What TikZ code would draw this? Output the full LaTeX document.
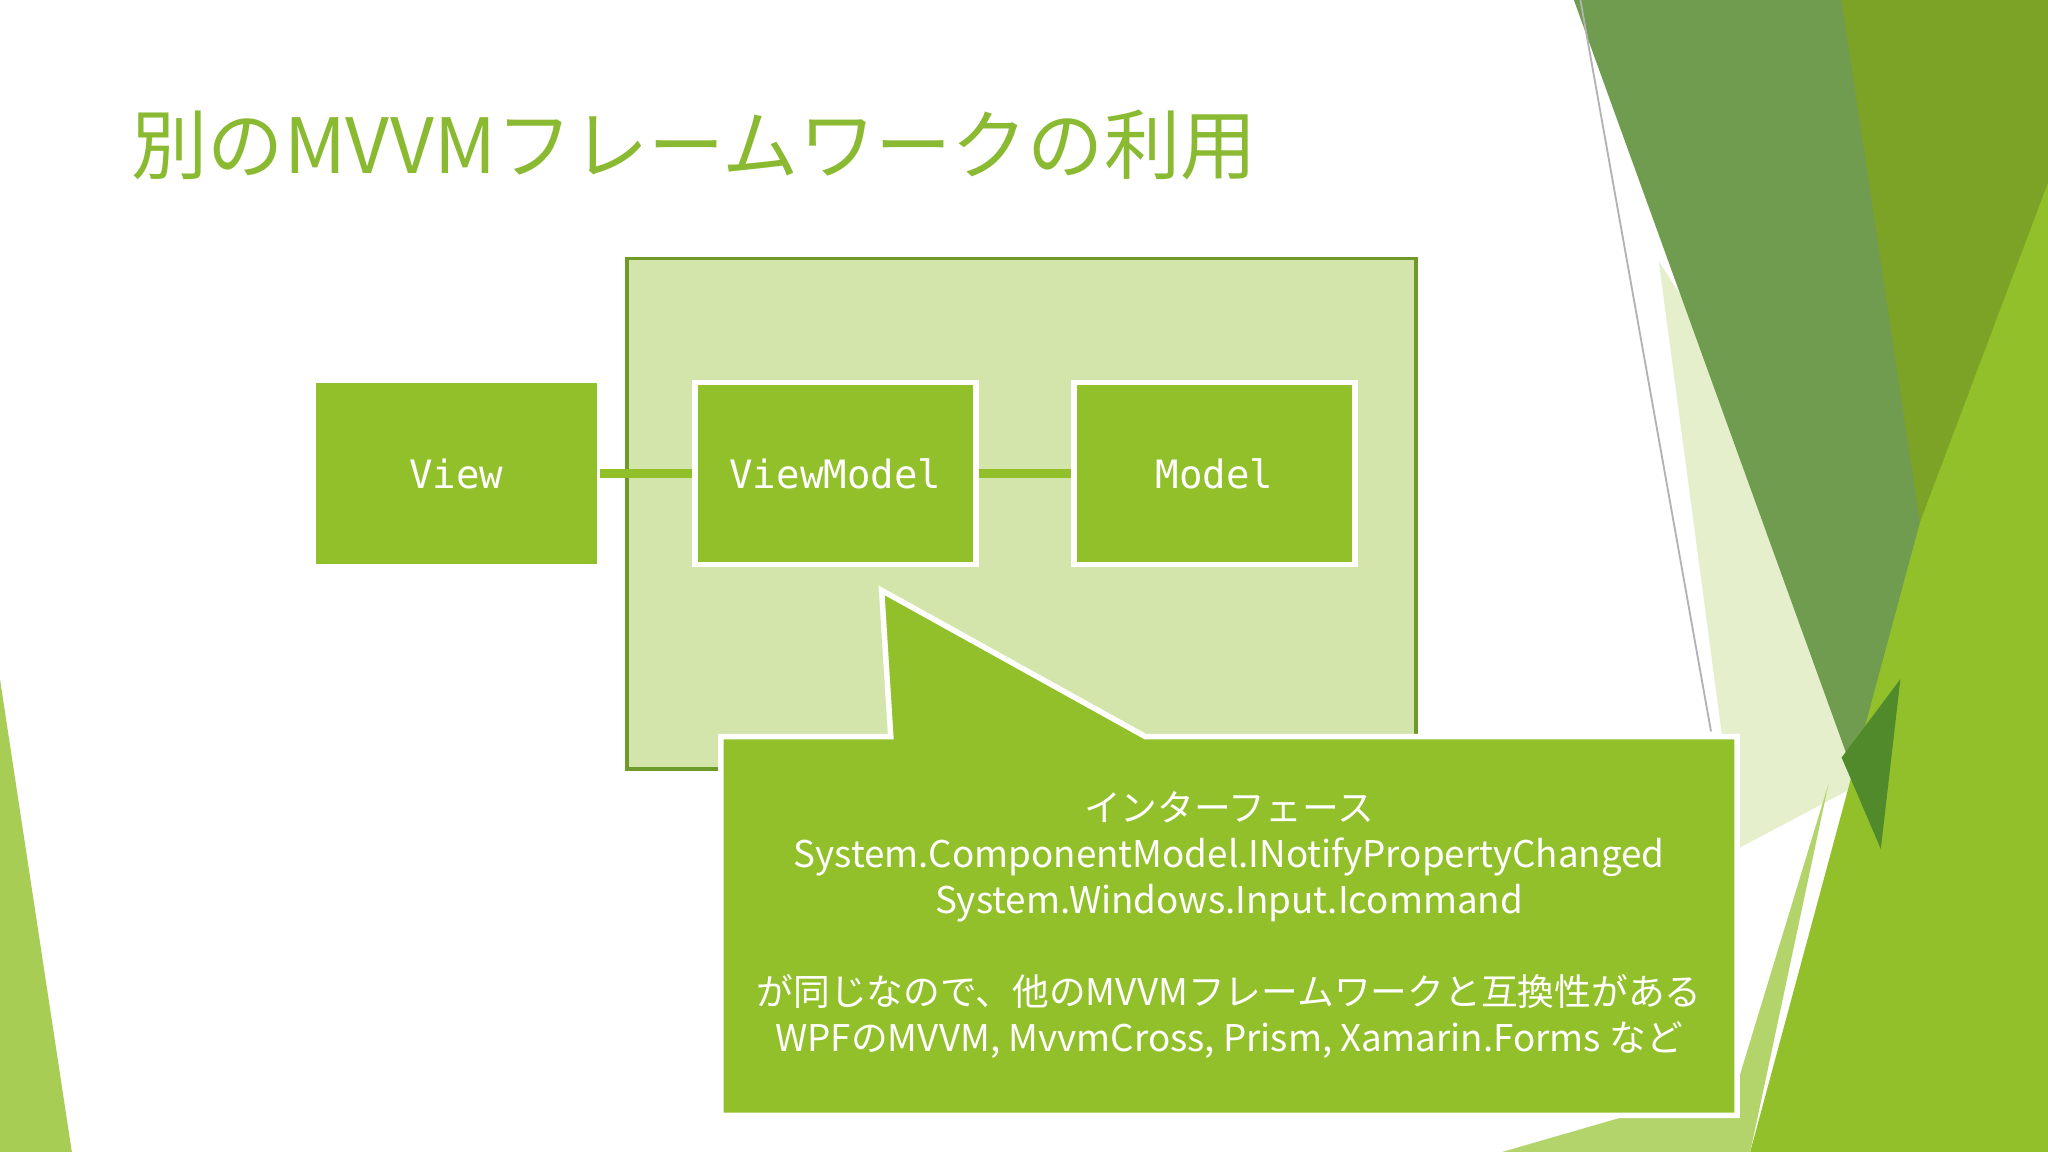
\documentclass[tikz,border=0pt]{standalone}
\usepackage{fontspec}
\setmainfont{Noto Sans CJK JP}
\newfontfamily\monofont{DejaVu Sans Mono}
\usetikzlibrary{positioning}
\definecolor{leaf}{RGB}{146,192,43}
\definecolor{paleleaf}{RGB}{211,229,170}
\definecolor{edgeleaf}{RGB}{110,154,42}
\definecolor{titleleaf}{RGB}{138,186,50}
\definecolor{forest}{RGB}{112,156,80}
\definecolor{deepleaf}{RGB}{80,138,43}
\tikzset{
  layer/.style={fill=#1,draw=none},
  part/.style={fill=leaf,draw=white,line width=1.2pt,minimum width=2.15cm,minimum height=1.39cm,
    text=white,font=\monofont\fontsize{8.5}{10}\selectfont},
  link/.style={leaf,line width=2pt}
}
\begin{document}
\begin{tikzpicture}[x=0.01cm,y=-0.01cm]
\useasboundingbox[fill=white] (0,0) rectangle (1568,882);

% Background decoration
\fill[layer=paleleaf!60] (1270,200) -- (1500,560) -- (1330,650) -- cycle;
\fill[layer=forest] (1205,0) -- (1530,0) -- (1440,650) -- cycle;
\fill[layer=leaf!85!black] (1410,0) -- (1568,0) -- (1568,300) -- (1470,400) -- cycle;
\fill[layer=leaf] (1470,400) -- (1568,140) -- (1568,882) -- (1340,882) -- cycle;
\fill[layer=deepleaf] (1410,580) -- (1455,520) -- (1440,650) -- cycle;
\fill[layer=leaf!70] (1150,882) -- (1330,830) -- (1400,600) -- (1340,882) -- cycle;
\draw[gray!60] (1210,0) -- (1310,560);
\fill[layer=leaf!80] (0,520) -- (55,882) -- (0,882) -- cycle;

% Title
\node[anchor=base west,inner sep=0pt,text=titleleaf,font=\fontsize{16.6}{20}\selectfont] (title) at (100,133) {別のMVVMフレームワークの利用};

% Framework area
\draw[fill=paleleaf,draw=edgeleaf,line width=0.8pt] (480,198) rectangle (1084,589);

% Parts
\node[part,draw=none] (view) at (349.5,362.5) {View};
\node[part] (vm) at (639.5,362.5) {ViewModel};
\node[part] (model) at (930,362.5) {Model};
\draw[link] (view) -- (vm);
\draw[link] (vm) -- (model);

% Callout
\draw[fill=leaf,draw=white,line width=1.2pt] (552,564) -- (682,564) -- (675,452) -- (877,564)
  -- (1330,564) -- (1330,854) -- (552,854) -- cycle;
\node[text=white,align=center,font=\fontsize{8}{10}\selectfont] (iface) at (941,656)
  {インターフェース\\System.ComponentModel.INotifyPropertyChanged\\System.Windows.Input.Icommand};
\node[text=white,align=center,font=\fontsize{8}{10}\selectfont] (compat) at (941,778)
  {が同じなので、他のMVVMフレームワークと互換性がある\\WPFのMVVM, MvvmCross, Prism, Xamarin.Forms など};
\end{tikzpicture}
\end{document}
